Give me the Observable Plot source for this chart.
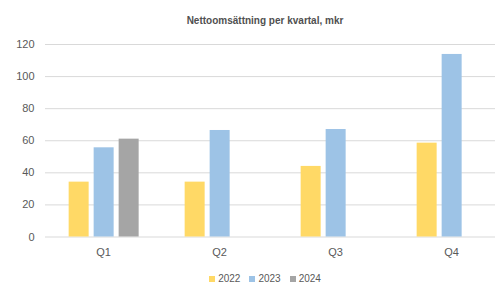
<!DOCTYPE html>
<html>
<head>
<meta charset="utf-8">
<script src="https://cdn.jsdelivr.net/npm/d3@7"></script>
<script src="https://cdn.jsdelivr.net/npm/@observablehq/plot@0.6"></script>
<style>
  html, body { margin: 0; padding: 0; background: #fff; overflow: hidden; }
  body { width: 495px; height: 285px; font-family: "Liberation Sans", Arial, sans-serif; }
  #title { height: 30px; box-sizing: border-box; padding-left: 35px; padding-top: 15px; text-align: center;
           font-size: 10px; font-weight: bold; color: #505050; line-height: 12px; }
  #legend { display: flex; justify-content: center; gap: 9px; padding-left: 35px; margin-top: 11px;
            font-size: 10px; color: #595959; line-height: 12px; }
  .item { display: flex; align-items: center; gap: 3px; }
  .sw { width: 6px; height: 6px; display: inline-block; }
  svg { display: block; overflow: visible; }
</style>
</head>
<body>
<div id="title">Nettoomsättning per kvartal, mkr</div>
<div id="chart"></div>
<div id="legend"></div>
<script>
const quarters = ["Q1", "Q2", "Q3", "Q4"];
const years = ["2022", "2023", "2024"];
const colors = ["#FFD966", "#9DC3E6", "#A5A5A5"];
const v2022 = [34.2, 34.2, 44, 58.5];
const v2023 = [55.6, 66.4, 67, 113.8];
const v2024 = [61, null, null, null];
const yTicks = [0, 20, 40, 60, 80, 100, 120];

const series = {"2022": v2022, "2023": v2023, "2024": v2024};
const data = [];
for (const y of years) quarters.forEach((q, i) => {
  if (series[y][i] != null) data.push({quarter: q, year: y, value: series[y][i]});
});

const chart = Plot.plot({
  width: 495,
  height: 232,
  marginLeft: 44.35,
  marginRight: -14.6,
  marginTop: 14,
  marginBottom: 25.5,
  style: {fontFamily: "Liberation Sans, Arial, sans-serif", fontSize: "11px", color: "#595959", background: "transparent"},
  fx: {domain: quarters, padding: 0, label: null, axis: "bottom", tickSize: 0, tickPadding: 11},
  x: {domain: years, paddingInner: 0.22, paddingOuter: 0.89, axis: null},
  y: {domain: [0, 120], ticks: yTicks, label: null, tickSize: 0, tickPadding: 11},
  color: {domain: years, range: colors},
  marks: [
    Plot.ruleY(yTicks, {stroke: "#d9d9d9", strokeWidth: 1}),
    Plot.barY(data, {fx: "quarter", x: "year", y: "value", fill: "year"})
  ]
});
document.getElementById("chart").appendChild(chart);

const legend = document.getElementById("legend");
years.forEach((y, i) => {
  const it = document.createElement("div");
  it.className = "item";
  const sw = document.createElement("span");
  sw.className = "sw";
  sw.style.background = colors[i];
  const t = document.createElement("span");
  t.textContent = y;
  it.appendChild(sw); it.appendChild(t);
  legend.appendChild(it);
});
</script>
</body>
</html>
